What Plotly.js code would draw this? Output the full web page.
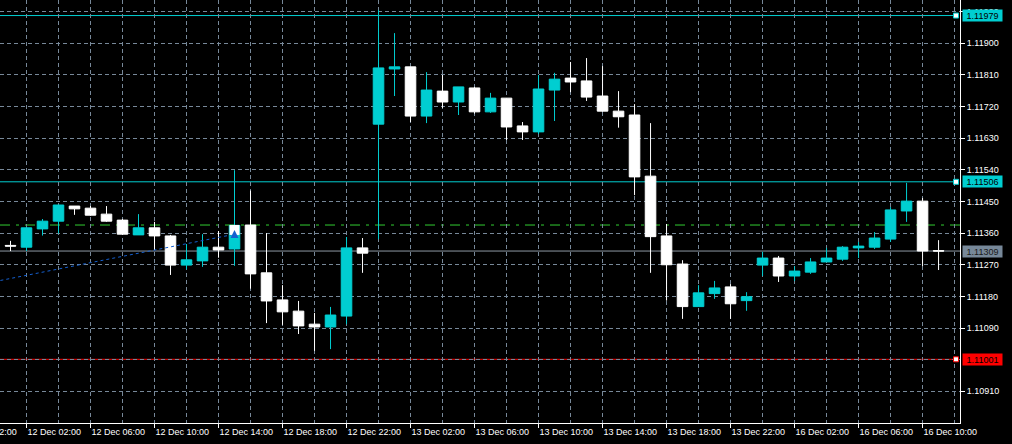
<!DOCTYPE html>
<html>
<head>
<meta charset="utf-8">
<script src="https://cdn.plot.ly/plotly-3.0.1.min.js"></script>
<style>html,body{margin:0;padding:0;background:#000;}#chart{width:1012px;height:444px;}</style>
</head>
<body>
<div id="chart"></div>
<script>
// ---- data (EURUSD H1) ----
const times = [
 "12 Dec 01:00","12 Dec 02:00","12 Dec 03:00","12 Dec 04:00","12 Dec 05:00","12 Dec 06:00","12 Dec 07:00","12 Dec 08:00",
 "12 Dec 09:00","12 Dec 10:00","12 Dec 11:00","12 Dec 12:00","12 Dec 13:00","12 Dec 14:00","12 Dec 15:00","12 Dec 16:00",
 "12 Dec 17:00","12 Dec 18:00","12 Dec 19:00","12 Dec 20:00","12 Dec 21:00","12 Dec 22:00","12 Dec 23:00",
 "13 Dec 00:00","13 Dec 01:00","13 Dec 02:00","13 Dec 03:00","13 Dec 04:00","13 Dec 05:00","13 Dec 06:00","13 Dec 07:00",
 "13 Dec 08:00","13 Dec 09:00","13 Dec 10:00","13 Dec 11:00","13 Dec 12:00","13 Dec 13:00","13 Dec 14:00","13 Dec 15:00",
 "13 Dec 16:00","13 Dec 17:00","13 Dec 18:00","13 Dec 19:00","13 Dec 20:00","13 Dec 21:00","13 Dec 22:00","13 Dec 23:00",
 "16 Dec 00:00","16 Dec 01:00","16 Dec 02:00","16 Dec 03:00","16 Dec 04:00","16 Dec 05:00","16 Dec 06:00","16 Dec 07:00",
 "16 Dec 08:00","16 Dec 09:00","16 Dec 10:00","16 Dec 11:00"
];
const openP = [
 1.11325,1.11320,1.11372,1.11394,1.11437,1.11431,1.11414,1.11397,
 1.11355,1.11375,1.11352,1.11269,1.11281,1.11320,1.11315,1.11383,
 1.11247,1.11170,1.11138,1.11101,1.11093,1.11124,1.11318,
 1.11670,1.11827,1.11833,1.11693,1.11764,1.11733,1.11773,1.11705,
 1.11744,1.11665,1.11648,1.11767,1.11801,1.11793,1.11750,1.11707,
 1.11696,1.11522,1.11352,1.11272,1.11151,1.11188,1.11207,1.11168,
 1.11269,1.11289,1.11238,1.11249,1.11278,1.11286,1.11318,1.11320,
 1.11343,1.11423,1.11451,1.11310
];
const highP = [
 1.11338,1.11377,1.11400,1.11440,1.11437,1.11437,1.11437,1.11400,
 1.11414,1.11392,1.11355,1.11329,1.11357,1.11366,1.11539,1.11481,
 1.11360,1.11212,1.11167,1.11133,1.11150,1.11349,1.11346,
 1.11995,1.11929,1.11833,1.11818,1.11810,1.11776,1.11776,1.11759,
 1.11744,1.11676,1.11810,1.11816,1.11847,1.11858,1.11835,1.11764,
 1.11727,1.11673,1.11386,1.11283,1.11212,1.11224,1.11215,1.11192,
 1.11307,1.11295,1.11266,1.11289,1.11318,1.11323,1.11335,1.11363,
 1.11434,1.11503,1.11460,1.11340
];
const lowP = [
 1.11309,1.11309,1.11353,1.11359,1.11412,1.11409,1.11392,1.11355,
 1.11355,1.11312,1.11241,1.11257,1.11264,1.11290,1.11267,1.11202,
 1.11104,1.11099,1.11073,1.11025,1.11030,1.11101,1.11247,
 1.11343,1.11750,1.11676,1.11673,1.11716,1.11696,1.11700,1.11702,
 1.11625,1.11625,1.11642,1.11679,1.11761,1.11736,1.11705,1.11660,
 1.11468,1.11247,1.11168,1.11116,1.11151,1.11173,1.11116,1.11139,
 1.11238,1.11221,1.11224,1.11244,1.11278,1.11281,1.11289,1.11315,
 1.11335,1.11392,1.11266,1.11255
];
const closeP = [
 1.11323,1.11375,1.11394,1.11440,1.11429,1.11411,1.11394,1.11357,
 1.11375,1.11352,1.11269,1.11284,1.11320,1.11312,1.11382,1.11244,
 1.11167,1.11136,1.11096,1.11093,1.11127,1.11318,1.11303,
 1.11830,1.11833,1.11693,1.11767,1.11733,1.11776,1.11705,1.11744,
 1.11662,1.11648,1.11770,1.11798,1.11790,1.11747,1.11707,1.11691,
 1.11520,1.11350,1.11270,1.11151,1.11190,1.11204,1.11159,1.11179,
 1.11289,1.11238,1.11252,1.11278,1.11289,1.11320,1.11323,1.11346,
 1.11426,1.11451,1.11309,1.11309
];
// x-axis labels (every 4 hours); the first one lies before the first bar
const tickLabels = ["11 Dec 22:00","12 Dec 02:00","12 Dec 06:00","12 Dec 10:00","12 Dec 14:00","12 Dec 18:00","12 Dec 22:00",
 "13 Dec 02:00","13 Dec 06:00","13 Dec 10:00","13 Dec 14:00","13 Dec 18:00","13 Dec 22:00","16 Dec 02:00","16 Dec 06:00","16 Dec 10:00"];
// price scale labels
const priceTicks = [1.10910,1.11090,1.11180,1.11270,1.11360,1.11450,1.11540,1.11630,1.11720,1.11810,1.11900,1.11990];
const gridPrices = [1.10910,1.11000,1.11090,1.11180,1.11270,1.11360,1.11450,1.11540,1.11630,1.11720,1.11810,1.11900,1.11990];
// horizontal levels
const levelPrices = [1.11979, 1.11506, 1.11001];
const levelColors = ["#00CED1", "#00CED1", "#FF0000"];
const bidPrice = 1.11309;
const pivotPrice = 1.11383;
// trend line and signal arrow
const trendIdx = [-1, 13.8];
const trendPrice = [1.11222, 1.11355];
const signalIdx = [14];
const signalPrice = [1.11369];

// ---- chart ----
const CYAN = "#00CED1";
const GRID = "#778899";
const FONT = "Liberation Sans";
const idx = times.map((t, i) => i);
const xmin = -0.656, xmax = 59.34;
const firstTick = times.indexOf(tickLabels[1]);
const tickPos = tickLabels.map((t, i) => firstTick + (i - 1) * 4);
const visTickVals = tickPos.filter(v => v >= xmin && v <= xmax);
const visTickText = tickLabels.filter((t, i) => tickPos[i] >= xmin && tickPos[i] <= xmax);
const minorVals = [];
for (let k = 1; k <= 59; k += 2) minorVals.push(k);

const traces = [
 {type: "candlestick", x: idx, open: openP, high: highP, low: lowP, close: closeP,
  increasing: {line: {color: CYAN, width: 1}, fillcolor: CYAN},
  decreasing: {line: {color: "#FFFFFF", width: 1}, fillcolor: "#FFFFFF"},
  whiskerwidth: 0, hoverinfo: "skip", showlegend: false},
 {type: "scatter", mode: "lines", x: trendIdx, y: trendPrice,
  line: {color: "#1560D0", width: 1, dash: "3px,3px"}, hoverinfo: "skip", showlegend: false},
 {type: "scatter", mode: "markers", x: signalIdx, y: signalPrice,
  marker: {symbol: "square", size: 10, color: "#FFFFFF", line: {width: 0}}, hoverinfo: "skip", showlegend: false},
 {type: "scatter", mode: "markers", x: signalIdx, y: signalPrice,
  marker: {symbol: "arrow-up", size: 8, color: "#1560D0", line: {width: 0}}, hoverinfo: "skip", showlegend: false}
];

const shapes = [];
const annotations = [];
const lineEnd = 956 / 960;
levelPrices.forEach((p, i) => {
  shapes.push({type: "line", layer: "between", xref: "paper", yref: "y", x0: 0, x1: lineEnd, y0: p, y1: p,
               line: {color: levelColors[i], width: 1}});
  shapes.push({type: "rect", layer: "above", xref: "paper", yref: "y", xsizemode: "pixel", ysizemode: "pixel",
               xanchor: lineEnd, yanchor: p, x0: -2.5, x1: 2.5, y0: -2.5, y1: 2.5,
               fillcolor: "#FFFFFF", line: {color: levelColors[i], width: 1}});
  annotations.push({xref: "paper", yref: "y", x: 962 / 960, y: p, xanchor: "left", yanchor: "middle",
               text: p.toFixed(5), showarrow: false, bgcolor: levelColors[i], width: 39, height: 11, borderpad: 0,
               font: {family: FONT, size: 9, color: "#000000"}});
});
shapes.push({type: "line", layer: "between", xref: "paper", yref: "y", x0: 0, x1: 1, y0: bidPrice, y1: bidPrice,
             line: {color: "#8E99A4", width: 1}});
annotations.push({xref: "paper", yref: "y", x: 962 / 960, y: bidPrice, xanchor: "left", yanchor: "middle",
             text: bidPrice.toFixed(5), showarrow: false, bgcolor: GRID, width: 39, height: 11, borderpad: 0,
             font: {family: FONT, size: 9, color: "#1a1a1a"}});
shapes.push({type: "line", layer: "between", xref: "paper", yref: "y", x0: 0, x1: 1, y0: pivotPrice, y1: pivotPrice,
             line: {color: "#32CD32", width: 1, dash: "10px,6px,3px,6px"}});
// partially visible first time label (before the first bar)
annotations.push({xref: "paper", yref: "paper", x: (tickPos[0] - xmin) / (xmax - xmin), y: 0, yshift: -9,
             xanchor: "left", yanchor: "middle", text: tickLabels[0], showarrow: false,
             font: {family: FONT, size: 9, color: "#FFFFFF"}});

const layout = {
  width: 1012, height: 444,
  margin: {l: 0, r: 52, t: 0, b: 21, pad: 0},
  paper_bgcolor: "#000000", plot_bgcolor: "#000000",
  showlegend: false, hovermode: false, boxgap: 0.34, boxgroupgap: 0,
  xaxis: {
    type: "linear", range: [xmin, xmax], fixedrange: true,
    tickmode: "array", tickvals: visTickVals, ticktext: visTickText,
    ticks: "outside", ticklen: 4, tickwidth: 1, tickcolor: "#FFFFFF",
    ticklabelposition: "outside right",
    tickfont: {family: FONT, size: 9, color: "#FFFFFF"},
    showline: true, linecolor: "#FFFFFF", linewidth: 1,
    showgrid: true, gridcolor: GRID, gridwidth: 1, griddash: "4px,3px",
    zeroline: false, rangeslider: {visible: false},
    minor: {tickmode: "array", tickvals: minorVals, ticks: "", showgrid: true,
            gridcolor: GRID, gridwidth: 1, griddash: "4px,3px"}
  },
  yaxis: {
    side: "right", range: [1.108198, 1.120232], fixedrange: true,
    tickmode: "array", tickvals: priceTicks, ticktext: priceTicks.map(v => v.toFixed(5)),
    ticks: "outside", ticklen: 4, tickwidth: 1, tickcolor: "#FFFFFF",
    tickfont: {family: FONT, size: 9, color: "#FFFFFF"},
    showline: true, linecolor: "#FFFFFF", linewidth: 1,
    showgrid: false, zeroline: false,
    minor: {tickmode: "array", tickvals: gridPrices, ticks: "", showgrid: true,
            gridcolor: GRID, gridwidth: 1, griddash: "4px,3px"}
  },
  shapes: shapes,
  annotations: annotations
};

Plotly.newPlot("chart", traces, layout, {staticPlot: true, displayModeBar: false});
</script>
</body>
</html>
